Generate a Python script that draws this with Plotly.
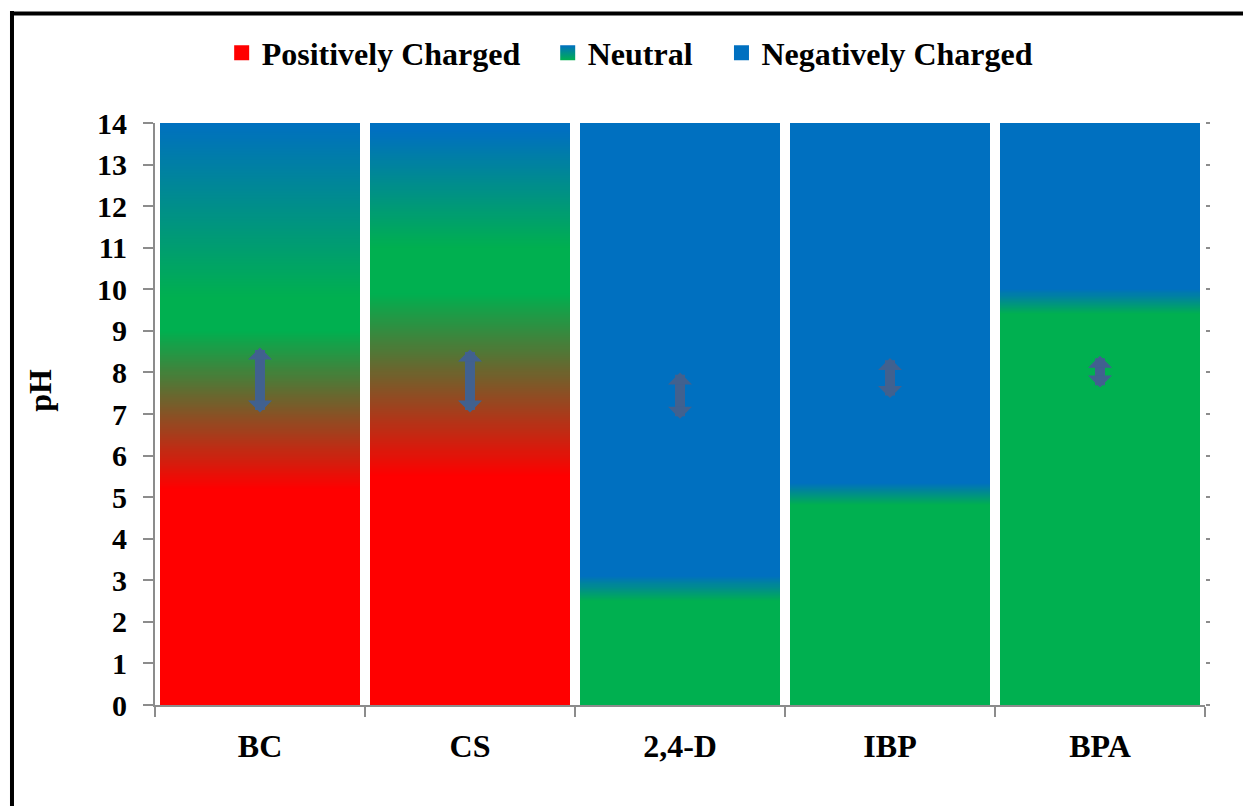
import numpy as np
import plotly.graph_objects as go

# Species present over the pH scale for each adsorbent / pollutant.
# Charge state codes: 0 = positively charged, 1 = neutral, 2 = negatively charged.
categories = ["BC", "CS", "2,4-D", "IBP", "BPA"]

bc_ph = [0.0, 5.2, 9.0, 9.8, 14.0]
bc_state = [0, 0, 1, 1, 2]

cs_ph = [0.0, 5.5, 9.9, 11.0, 13.8, 14.0]
cs_state = [0, 0, 1, 1, 2, 2]

d24_ph = [0.0, 2.5, 3.1, 14.0]
d24_state = [1, 1, 2, 2]

ibp_ph = [0.0, 4.8, 5.35, 14.0]
ibp_state = [1, 1, 2, 2]

bpa_ph = [0.0, 9.4, 10.0, 14.0]
bpa_state = [1, 1, 2, 2]

# Working pH range of each system (double-headed arrows)
range_low = [7.0, 7.0, 6.85, 7.35, 7.6]
range_high = [8.6, 8.55, 8.0, 8.35, 8.4]

legend_names = ["Positively Charged", "Neutral", "Negatively Charged"]

RED, GREEN, BLUE = "#FF0000", "#00B050", "#0070C0"
ARROW = "#41618F"
AXIS = "#8C8C8C"
FONT = dict(family="Liberation Serif", size=30, color="black", weight="bold")
BIG = dict(FONT, size=32)

profiles = [(bc_ph, bc_state), (cs_ph, cs_state), (d24_ph, d24_state),
            (ibp_ph, ibp_state), (bpa_ph, bpa_state)]

# fine pH grid so the charge transitions render as smooth gradients
ph_grid = np.linspace(0, 14, 561)
z = np.column_stack([np.interp(ph_grid, p, s) for p, s in profiles])

fig = go.Figure()

fig.add_trace(go.Heatmap(
    x=categories, y=ph_grid, z=z,
    zmin=0, zmax=2,
    colorscale=[[0, RED], [0.5, GREEN], [1, BLUE]],
    showscale=False, xgap=10, ygap=0, hoverinfo="skip",
))

# legend entries (square markers; the neutral one carries a blue-to-green gradient)
legend_marker = dict(symbol="square", size=15, line=dict(width=0))
fig.add_trace(go.Scatter(x=[None], y=[None], name=legend_names[0], mode="markers",
                         marker=dict(legend_marker, color=RED), legend="legend"))
fig.add_trace(go.Scatter(x=[None], y=[None], name=legend_names[1], mode="markers",
                         marker=dict(legend_marker, color=BLUE,
                                     gradient=dict(type="vertical", color=GREEN)),
                         legend="legend2"))
fig.add_trace(go.Scatter(x=[None], y=[None], name=legend_names[2], mode="markers",
                         marker=dict(legend_marker, color=BLUE), legend="legend3"))

# carrier for the mirrored right-hand ticks
fig.add_trace(go.Scatter(x=[None], y=[None], yaxis="y2", showlegend=False,
                         hoverinfo="skip"))

for cat, lo, hi in zip(categories, range_low, range_high):
    fig.add_annotation(
        x=cat, y=hi, ax=cat, ay=lo, xref="x", yref="y", axref="x", ayref="y",
        text="", showarrow=True, arrowside="end+start",
        arrowhead=1, startarrowhead=1, arrowsize=0.4, startarrowsize=0.4,
        arrowwidth=10, arrowcolor=ARROW,
    )

fig.add_annotation(
    text="pH", xref="paper", yref="paper", x=-0.1095, y=0.54,
    xanchor="center", yanchor="middle",
    textangle=-90, showarrow=False, font=BIG,
)

# outer frame (left and top edges)
fig.add_shape(type="line", xref="paper", yref="paper",
              x0=-0.1362, x1=-0.1362, y0=1.1925, y1=-0.2,
              line=dict(color="black", width=4))
fig.add_shape(type="line", xref="paper", yref="paper",
              x0=-0.138, x1=1.05, y0=1.188, y1=1.188,
              line=dict(color="black", width=4))

legend_common = dict(orientation="h", yanchor="middle", y=1.1202, xanchor="left",
                     font=BIG, bgcolor="rgba(0,0,0,0)", borderwidth=0,
                     itemsizing="trace")

fig.update_layout(
    width=1243, height=806,
    margin=dict(l=155, r=38, t=123, b=101),
    template="none",
    paper_bgcolor="white", plot_bgcolor="white",
    font=FONT,
    showlegend=True,
    legend=dict(x=0.0635, **legend_common),
    legend2=dict(x=0.374, **legend_common),
    legend3=dict(x=0.5395, **legend_common),
    xaxis=dict(
        type="category", range=[-0.5, 4.5], showgrid=False,
        showline=True, linecolor=AXIS, linewidth=2,
        ticks="outside", tickson="boundaries", ticklen=10, tickwidth=2,
        tickcolor=AXIS, ticklabelstandoff=12, tickfont=BIG, automargin=False,
        zeroline=False,
    ),
    yaxis=dict(
        range=[0, 14], dtick=1, showgrid=False, zeroline=False,
        showline=True, linecolor=AXIS, linewidth=2,
        ticks="outside", ticklen=10, tickwidth=2, tickcolor=AXIS,
        ticklabelstandoff=10, tickfont=FONT, automargin=False,
    ),
    yaxis2=dict(
        overlaying="y", side="right", range=[0, 14], dtick=1,
        showgrid=False, zeroline=False, showline=False,
        ticks="outside", ticklen=4, tickwidth=2, tickcolor=AXIS,
        showticklabels=False, automargin=False,
    ),
)

fig.write_html("out.html")
